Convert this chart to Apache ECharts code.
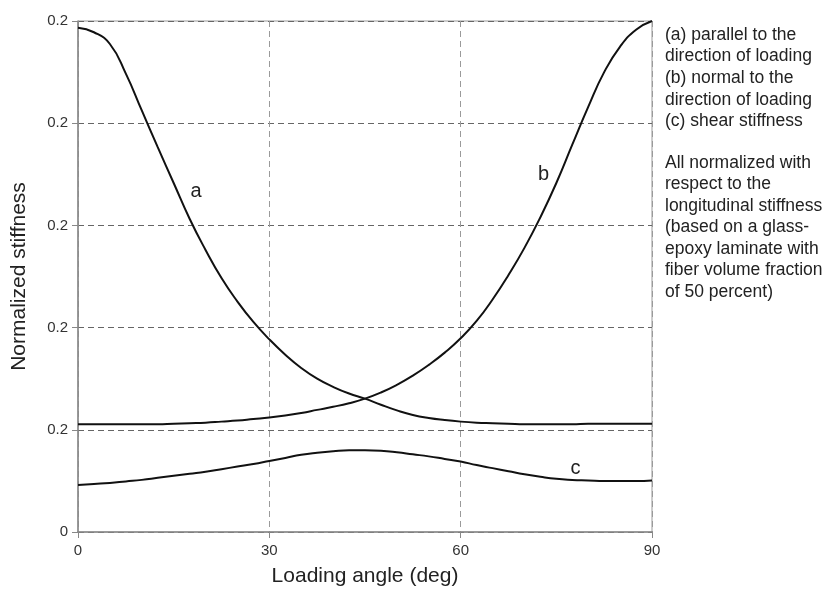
<!DOCTYPE html>
<html>
<head>
<meta charset="utf-8">
<script src="https://cdn.jsdelivr.net/npm/echarts@6/dist/echarts.min.js"></script>
<style>
  html, body { margin: 0; padding: 0; background: #fff; }
  #chart { width: 831px; height: 595px; }
</style>
</head>
<body>
<div id="chart"></div>
<script>
// values, every 2.5 degrees
var angles = [0, 2.5, 5, 7.5, 10, 12.5, 15, 17.5, 20, 22.5, 25, 27.5, 30, 32.5, 35, 37.5, 40, 42.5, 45, 47.5, 50, 52.5, 55, 57.5, 60, 62.5, 65, 67.5, 70, 72.5, 75, 77.5, 80, 82.5, 85, 87.5, 90];
var seriesA = [0.987, 0.978, 0.955, 0.897, 0.825, 0.753, 0.683, 0.613, 0.552, 0.497, 0.451, 0.411, 0.377, 0.347, 0.321, 0.300, 0.284, 0.271, 0.261, 0.249, 0.238, 0.229, 0.223, 0.219, 0.216, 0.214, 0.213, 0.212, 0.211, 0.211, 0.211, 0.211, 0.212, 0.212, 0.212, 0.212, 0.212];
var seriesB = [0.211, 0.211, 0.211, 0.211, 0.211, 0.211, 0.212, 0.213, 0.214, 0.216, 0.218, 0.221, 0.224, 0.228, 0.233, 0.239, 0.245, 0.252, 0.261, 0.273, 0.288, 0.306, 0.327, 0.351, 0.379, 0.413, 0.455, 0.503, 0.556, 0.616, 0.683, 0.758, 0.832, 0.900, 0.950, 0.983, 1.0];
var seriesC = [0.092, 0.094, 0.096, 0.099, 0.102, 0.106, 0.110, 0.114, 0.118, 0.123, 0.128, 0.133, 0.139, 0.145, 0.151, 0.155, 0.158, 0.160, 0.160, 0.159, 0.156, 0.152, 0.148, 0.143, 0.138, 0.131, 0.125, 0.119, 0.113, 0.108, 0.104, 0.102, 0.101, 0.100, 0.100, 0.100, 0.101];
var yTickLabels = ['0', '0.2', '0.2', '0.2', '0.2', '0.2'];
var curveLabels = [['a', 18.5, 0.667], ['b', 73, 0.699], ['c', 78, 0.124]];
var noteTop = ['(a) parallel to the', 'direction of loading', '(b) normal to the', 'direction of loading', '(c) shear stiffness'];
var noteBottom = ['All normalized with', 'respect to the', 'longitudinal stiffness', '(based on a glass-', 'epoxy laminate with', 'fiber volume fraction', 'of 50 percent)'];

function pairs(vals) {
  return angles.map(function (a, i) { return [a, vals[i]]; });
}

function curve(name, vals, lab) {
  return {
    name: name,
    type: 'line',
    data: pairs(vals),
    smooth: 0.5,
    showSymbol: false,
    lineStyle: { color: '#111', width: 2 },
    markPoint: {
      symbolSize: 0,
      label: { show: true, formatter: lab[0], color: '#222', fontSize: 20, fontFamily: 'Liberation Sans' },
      data: [{ coord: [lab[1], lab[2]] }]
    },
    z: 3
  };
}

var chart = echarts.init(document.getElementById('chart'));
var font = 'Liberation Sans';
var option = {
  animation: false,
  grid: {
    left: 78, right: 179, top: 21, bottom: 63,
    show: true, borderColor: '#999', borderWidth: 1
  },
  xAxis: {
    type: 'value',
    min: 0, max: 90, interval: 30,
    name: 'Loading angle (deg)',
    nameLocation: 'middle',
    nameGap: 34,
    nameTextStyle: { fontSize: 21, color: '#222', fontFamily: font },
    axisLine: { lineStyle: { color: '#888', width: 1.5 } },
    axisTick: { show: true, length: 6, lineStyle: { color: '#888' } },
    axisLabel: { margin: 11, fontSize: 15, color: '#333', fontFamily: font },
    splitLine: { show: true, lineStyle: { type: [6, 4], color: '#9a9a9a' } }
  },
  yAxis: {
    type: 'value',
    min: 0, max: 1, interval: 0.2,
    name: 'Normalized stiffness',
    nameLocation: 'middle',
    nameGap: 48,
    nameTextStyle: { fontSize: 21, color: '#222', fontFamily: font },
    axisLine: { show: true, lineStyle: { color: '#888', width: 1.5 } },
    axisTick: { show: true, length: 6, lineStyle: { color: '#888' } },
    axisLabel: {
      margin: 10, fontSize: 15, color: '#333', fontFamily: font,
      formatter: function (v) { return yTickLabels[Math.round(v / 0.2)]; }
    },
    splitLine: { show: true, lineStyle: { type: [6, 4], color: '#666' } }
  },
  graphic: [
    {
      type: 'text', left: 665, top: 24,
      style: { text: noteTop.join('\n'), fontSize: 17.5, lineHeight: 21.7, fill: '#222', fontFamily: font }
    },
    {
      type: 'text', left: 665, top: 152,
      style: { text: noteBottom.join('\n'), fontSize: 17.5, lineHeight: 21.5, fill: '#222', fontFamily: font }
    }
  ],
  series: [
    curve('a', seriesA, curveLabels[0]),
    curve('b', seriesB, curveLabels[1]),
    curve('c', seriesC, curveLabels[2])
  ]
};
chart.setOption(option);
</script>
</body>
</html>
